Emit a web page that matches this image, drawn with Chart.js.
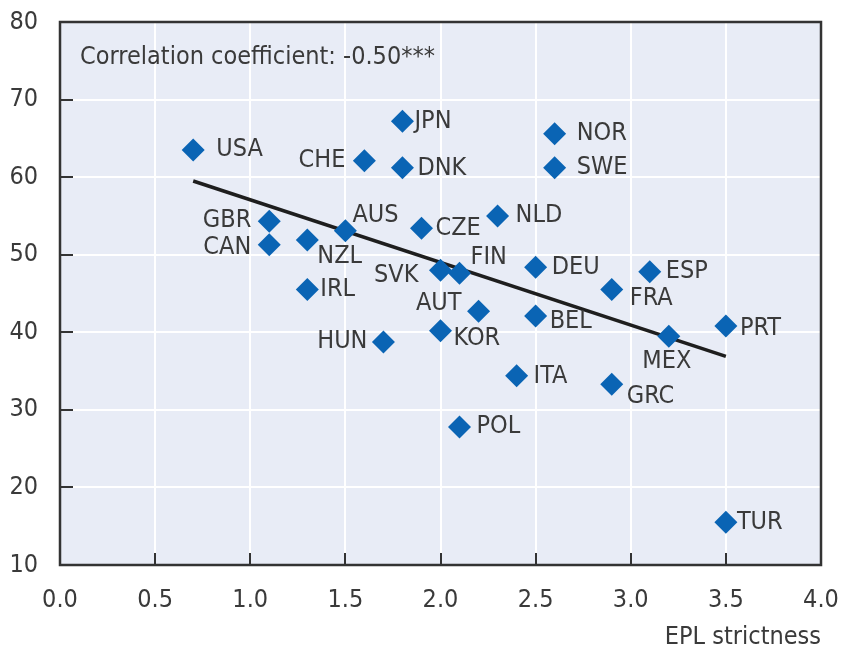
<!DOCTYPE html>
<html>
<head>
<meta charset="utf-8">
<script src="https://cdn.jsdelivr.net/npm/chart.js@4/dist/chart.umd.min.js"></script>
<style>
  html, body { margin: 0; padding: 0; background: #ffffff; }
  #wrap { width: 843px; height: 650px; }
</style>
</head>
<body>
<div id="wrap"><canvas id="c" width="843" height="650"></canvas></div>
<script>
// ---- Data ----
const countries = ["USA","JPN","CHE","DNK","NOR","SWE","GBR","CAN","NZL","AUS","CZE","NLD","IRL","SVK","FIN","DEU","ESP","FRA","AUT","BEL","KOR","HUN","MEX","PRT","ITA","GRC","POL","TUR"];
const eplStrictness = [0.7,1.8,1.6,1.8,2.6,2.6,1.1,1.1,1.3,1.5,1.9,2.3,1.3,2.0,2.1,2.5,3.1,2.9,2.2,2.5,2.0,1.7,3.2,3.5,2.4,2.9,2.1,3.5];
const yValues = [63.5,67.2,62.1,61.2,65.6,61.2,54.3,51.3,51.9,53.1,53.4,55.0,45.5,48.0,47.6,48.4,47.8,45.5,42.7,42.1,40.2,38.75,39.5,40.8,34.4,33.3,27.8,15.5];
const trendX = [0.7, 3.5];
const trendY = [59.5, 36.9];
const xTicks = [0.0,0.5,1.0,1.5,2.0,2.5,3.0,3.5,4.0];
const yTicks = [10,20,30,40,50,60,70,80];
const noteText = "Correlation coefficient: -0.50***";
const xTitle = "EPL strictness";

// ---- Label placement (layout only): [dx, dy, align] in pixels ----
const labelPlacement = {
  USA:[23,0,"left"], JPN:[12,0,"left"], CHE:[-19,0,"right"], DNK:[15,1,"left"],
  NOR:[22,0,"left"], SWE:[22,0,"left"], GBR:[-18,-1,"right"], CAN:[-18,3,"right"],
  NZL:[10,17,"left"], AUS:[7,-15,"left"], CZE:[14,0,"left"], NLD:[18,0,"left"],
  IRL:[13,0,"left"], SVK:[-22,5,"right"], FIN:[11,-16,"left"], DEU:[16,0,"left"],
  ESP:[16,0,"left"], FRA:[18,9,"left"], AUT:[-17,-8,"right"], BEL:[14,6,"left"],
  KOR:[13,8,"left"], HUN:[-16,0,"right"], MEX:[-2,25,"center"], PRT:[14,2,"left"],
  ITA:[17,1,"left"], GRC:[15,12,"left"], POL:[17,0,"left"], TUR:[11,0,"left"]
};

const FONT = "'DejaVu Sans Condensed', 'Liberation Sans Narrow', sans-serif";
const TEXT = "#3a3a3a";
const PLOT_BG = "#e8ecf6";
const AXIS = "#333333";

const points = countries.map((c, i) => ({x: eplStrictness[i], y: yValues[i], label: c}));
const trend = trendX.map((x, i) => ({x: x, y: trendY[i]}));

const decor = {
  id: "decor",
  beforeDraw(chart) {
    const {ctx, chartArea: a} = chart;
    ctx.save();
    ctx.fillStyle = PLOT_BG;
    ctx.fillRect(a.left, a.top, a.right - a.left, a.bottom - a.top);
    ctx.restore();
  },
  afterDatasetsDraw(chart) {
    const {ctx, chartArea: a, scales} = chart;
    ctx.save();
    // inner tick marks
    ctx.strokeStyle = AXIS;
    ctx.lineWidth = 2;
    ctx.beginPath();
    xTicks.forEach(v => {
      if (v <= xTicks[0] || v >= xTicks[xTicks.length-1]) return;
      const px = Math.round(scales.x.getPixelForValue(v));
      ctx.moveTo(px, a.bottom); ctx.lineTo(px, a.bottom - 12);
    });
    yTicks.forEach(v => {
      if (v <= yTicks[0] || v >= yTicks[yTicks.length-1]) return;
      const py = Math.round(scales.y.getPixelForValue(v));
      ctx.moveTo(a.left, py); ctx.lineTo(a.left + 13, py);
    });
    ctx.stroke();
    // frame
    ctx.strokeStyle = AXIS;
    ctx.lineWidth = 2.5;
    ctx.strokeRect(a.left, a.top, a.right - a.left, a.bottom - a.top);
    // point labels
    ctx.fillStyle = TEXT;
    ctx.font = "25px " + FONT;
    ctx.textBaseline = "middle";
    const meta = chart.getDatasetMeta(1);
    meta.data.forEach((el, i) => {
      const c = countries[i];
      const p = labelPlacement[c] || [12,0,"left"];
      ctx.textAlign = p[2];
      ctx.fillText(c, el.x + p[0], el.y + p[1]);
    });
    // note
    ctx.textAlign = "left";
    ctx.fillText(noteText, a.left + 20, a.top + 35);
    ctx.restore();
  }
};

new Chart(document.getElementById("c"), {
  type: "scatter",
  data: {
    datasets: [
      {
        type: "line",
        data: trend,
        borderColor: "#1e1e1e",
        borderWidth: 3.5,
        pointRadius: 0,
        showLine: true,
        fill: false,
        order: 1
      },
      {
        data: points,
        pointStyle: "rectRot",
        pointRadius: 11.5,
        pointHoverRadius: 11.5,
        backgroundColor: "#0a64b4",
        borderColor: "#0a64b4",
        borderWidth: 0,
        order: 0
      }
    ]
  },
  options: {
    responsive: false,
    animation: false,
    devicePixelRatio: 1,
    layout: { padding: { top: 22, right: 22, left: 0, bottom: 0 } },
    plugins: { legend: { display: false }, tooltip: { enabled: false } },
    scales: {
      x: {
        type: "linear",
        min: 0, max: 4,
        afterFit(s) { s.height = 85; s.paddingLeft = 0; s.paddingRight = 0; },
        afterBuildTicks(s) { s.ticks = xTicks.map(v => ({value: v})); },
        grid: { color: "#ffffff", lineWidth: 2, drawTicks: false },
        border: { display: false },
        ticks: {
          padding: 20,
          color: TEXT,
          font: { family: FONT, size: 25 },
          maxRotation: 0,
          callback: v => Number(v).toFixed(1)
        },
        title: {
          display: true,
          text: xTitle,
          align: "end",
          color: TEXT,
          font: { family: FONT, size: 25, lineHeight: 1 },
          padding: { top: 0, bottom: 0 }
        }
      },
      y: {
        type: "linear",
        min: 10, max: 80,
        afterFit(s) { s.width = 60; s.paddingTop = 0; s.paddingBottom = 0; },
        afterBuildTicks(s) { s.ticks = yTicks.map(v => ({value: v})); },
        grid: { color: "#ffffff", lineWidth: 2, drawTicks: false },
        border: { display: false },
        ticks: {
          padding: 22,
          color: TEXT,
          font: { family: FONT, size: 25 }
        }
      }
    }
  },
  plugins: [decor]
});
</script>
</body>
</html>
